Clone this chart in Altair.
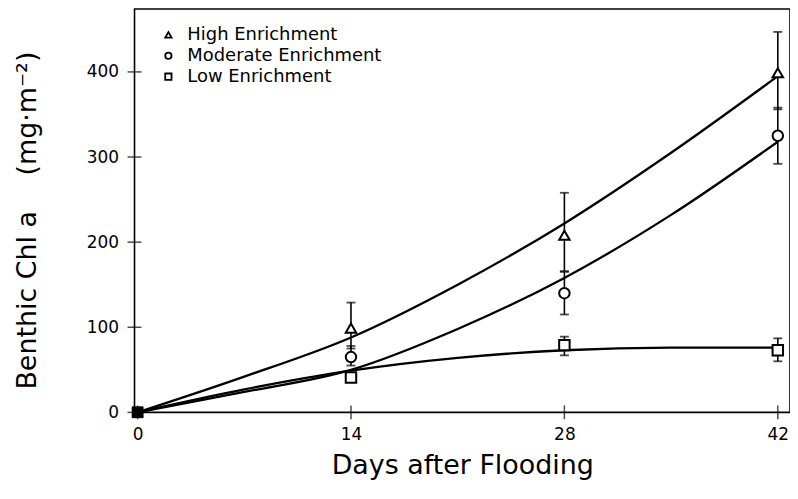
import altair as alt
import pandas as pd

# ---- data ----
groups = ["High Enrichment", "Moderate Enrichment", "Low Enrichment"]
shapes = ["triangle-up", "circle", "square"]

days = [0, 14, 28, 42]
high_mean = [0, 99, 208, 399]
high_lo = [0, 75, 166, 356]
high_hi = [0, 129, 258, 447]
mod_mean = [0, 65, 140, 325]
mod_lo = [0, 55, 115, 292]
mod_hi = [0, 78, 165, 358]
low_mean = [0, 41, 79, 73]
low_lo = [0, 37, 67, 60]
low_hi = [0, 46, 89, 87]

curve_days = [0, 7, 14, 21, 28, 35, 42]
high_fit = [0, 42, 88, 150, 222, 305, 395]
mod_fit = [0, 24, 50, 98, 158, 232, 318]
low_fit = [0, 27, 49, 64, 73, 76, 76]

x_ticks = [0, 14, 28, 42]
y_ticks = [0, 100, 200, 300, 400]

# ---- tables ----
pts = []
for g, m, lo, hi in zip(groups, [high_mean, mod_mean, low_mean],
                        [high_lo, mod_lo, low_lo], [high_hi, mod_hi, low_hi]):
    for d, mv, l, h in zip(days, m, lo, hi):
        pts.append({"group": g, "day": d, "mean": mv, "lo": l, "hi": h})
pts = pd.DataFrame(pts)

curves = []
for g, f in zip(groups, [high_fit, mod_fit, low_fit]):
    for d, v in zip(curve_days, f):
        curves.append({"group": g, "day": d, "fit": v})
curves = pd.DataFrame(curves)

W, H = 658, 405
FONT = "DejaVu Sans"

xs = alt.Scale(domain=[-0.2, 42.8], nice=False, zero=False)
ys = alt.Scale(domain=[0, 474], nice=False)

x_axis = alt.Axis(values=x_ticks, title="Days after Flooding", grid=False, ticks=False,
                  domain=False, labelFontSize=17, labelPadding=14, labelColor="black",
                  titleFontSize=27, titleFontWeight="normal", titlePadding=10,
                  titleColor="black", labelFont=FONT, titleFont=FONT)
y_axis = alt.Axis(values=y_ticks, title="Benthic Chl a\u2003 (mg·m⁻²)", grid=False, ticks=False,
                  domain=False, labelFontSize=17, labelPadding=16, labelColor="black",
                  titleFontSize=27, titleFontWeight="normal", titleX=-93, titleY=212,
                  titleColor="black", labelFont=FONT, titleFont=FONT)

lines = alt.Chart(curves).mark_line(color="black", strokeWidth=2.3, interpolate="monotone").encode(
    x=alt.X("day:Q", scale=xs, axis=x_axis),
    y=alt.Y("fit:Q", scale=ys, axis=y_axis),
    detail="group:N",
)

err = alt.Chart(pts).mark_rule(color="black", strokeWidth=1.6).encode(
    x=alt.X("day:Q", scale=xs),
    y=alt.Y("lo:Q", scale=ys),
    y2="hi:Q",
)
cap_hi = alt.Chart(pts).transform_filter("datum.day > 0").mark_tick(
    color="black", orient="horizontal", size=9, thickness=1.8).encode(
    x=alt.X("day:Q", scale=xs), y=alt.Y("hi:Q", scale=ys))
cap_lo = alt.Chart(pts).transform_filter("datum.day > 0").mark_tick(
    color="black", orient="horizontal", size=9, thickness=1.8).encode(
    x=alt.X("day:Q", scale=xs), y=alt.Y("lo:Q", scale=ys))

legend = alt.Legend(title=None, orient="none", legendX=25, legendY=17,
                    labelFontSize=18, labelFont=FONT, labelColor="black",
                    labelLimit=0, symbolSize=40, symbolFillColor="white",
                    symbolStrokeWidth=1.8, rowPadding=3, labelOffset=10)

points = alt.Chart(pts).transform_filter("datum.day > 0").mark_point(
    fill="white", fillOpacity=1, strokeWidth=2, opacity=1, filled=False, size=110).encode(
    x=alt.X("day:Q", scale=xs),
    y=alt.Y("mean:Q", scale=ys),
    shape=alt.Shape("group:N", scale=alt.Scale(domain=groups, range=shapes), legend=legend),
    color=alt.Color("group:N", scale=alt.Scale(domain=groups, range=["black"] * 3), legend=legend),
)
origin = alt.Chart(pts).transform_filter("datum.day == 0").mark_point(
    color="black", filled=True, opacity=1, size=130, shape="square").encode(
    x=alt.X("day:Q", scale=xs),
    y=alt.Y("mean:Q", scale=ys),
)

ytick_df = pd.DataFrame({"v": y_ticks})
xtick_df = pd.DataFrame({"v": x_ticks})
yt = alt.Chart(ytick_df).mark_tick(color="black", orient="horizontal", size=14, thickness=1.5).encode(
    y=alt.Y("v:Q", scale=ys), x=alt.value(0))
xt = alt.Chart(xtick_df).mark_tick(color="black", orient="vertical", size=14, thickness=1.5).encode(
    x=alt.X("v:Q", scale=xs), y=alt.value(H))

chart = alt.layer(lines, err, cap_hi, cap_lo, points, origin, yt, xt).properties(
    width=W, height=H,
    background="white",
    autosize=alt.AutoSizeParams(type="none"),
    padding={"left": 127, "top": 0, "right": 0, "bottom": 80},
).configure_view(stroke="black", strokeWidth=1.6)

chart.save("out.html", embed_options={"renderer": "svg", "actions": False})
